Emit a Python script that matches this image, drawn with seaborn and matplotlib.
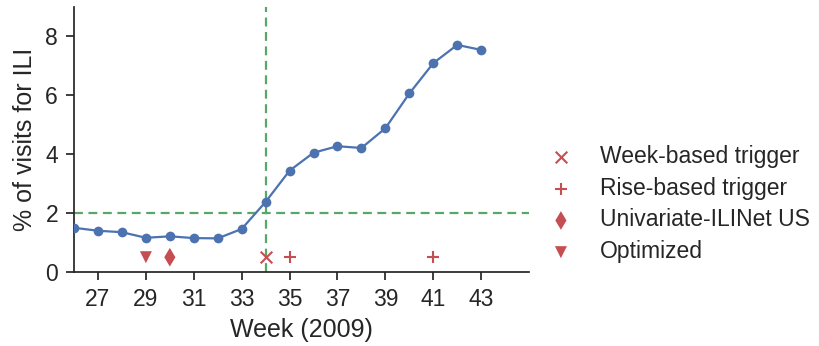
import matplotlib
matplotlib.use("Agg")
import matplotlib.pyplot as plt
import seaborn as sns
import pandas as pd

weeks = [26, 27, 28, 29, 30, 31, 32, 33, 34, 35, 36, 37, 38, 39, 40, 41, 42, 43]
ili_pct = [1.50, 1.40, 1.35, 1.16, 1.21, 1.15, 1.14, 1.46, 2.38, 3.44, 4.05,
           4.27, 4.21, 4.88, 6.06, 7.09, 7.71, 7.54]

trigger_labels = ["Week-based trigger", "Rise-based trigger",
                  "Univariate-ILINet US", "Optimized"]
trigger_weeks = [[34], [35, 41], [30], [29]]
trigger_markers = ["x", "+", "d", "v"]
trigger_level = 0.5

threshold = 2.0
onset_week = 34

sns.set_theme(style="ticks")
plt.rcParams["font.family"] = ["Liberation Sans", "DejaVu Sans"]

blue, green, red = "#4c72b0", "#55a868", "#c44e52"
ink = "#262626"

fig = plt.figure(figsize=(8.19, 3.46), dpi=100)
ax = fig.add_axes([0.0904, 0.214, 0.5556, 0.766])

df = pd.DataFrame({"week": weeks, "ili": ili_pct})
sns.lineplot(data=df, x="week", y="ili", ax=ax, color=blue, marker="o",
             markersize=7, markeredgewidth=0, linewidth=1.6, zorder=3)

ax.axhline(threshold, color=green, linestyle="--", linewidth=1.6,
           dashes=(4, 2.5), zorder=2)
ax.axvline(onset_week, color=green, linestyle="--", linewidth=1.6,
           dashes=(4, 2.5), zorder=2)

sizes = {"x": 70, "+": 80, "d": 90, "v": 75}
for label, wks, mk in zip(trigger_labels, trigger_weeks, trigger_markers):
    tdf = pd.DataFrame({"week": wks, "y": [trigger_level] * len(wks)})
    filled = mk in ("d", "v")
    sns.scatterplot(data=tdf, x="week", y="y", ax=ax, marker=mk, color=red,
                    s=sizes[mk], linewidth=0 if filled else 1.5,
                    edgecolor="none" if filled else red,
                    label=label, zorder=4)

ax.set_xlim(26, 45)
ax.set_ylim(0, 9)
ax.set_xticks(list(range(27, 44, 2)))
ax.set_yticks([0, 2, 4, 6, 8])
ax.tick_params(labelsize=16.5, length=5.5, width=1.25, pad=6, colors=ink)
for s in ax.spines.values():
    s.set_linewidth(1.25)
    s.set_color(ink)
ax.set_xlabel("Week (2009)", fontsize=18, labelpad=5, color=ink)
ax.set_ylabel("% of visits for ILI", fontsize=18, labelpad=6, color=ink)
sns.despine(ax=ax)

ax.legend(loc="center left", bbox_to_anchor=(538 / 819, 0.41),
          bbox_transform=fig.transFigure, frameon=False, fontsize=16.5,
          handlelength=2.0, handletextpad=0.7, labelspacing=0.38,
          borderpad=0, borderaxespad=0)

fig.savefig("out.png", dpi=100)
